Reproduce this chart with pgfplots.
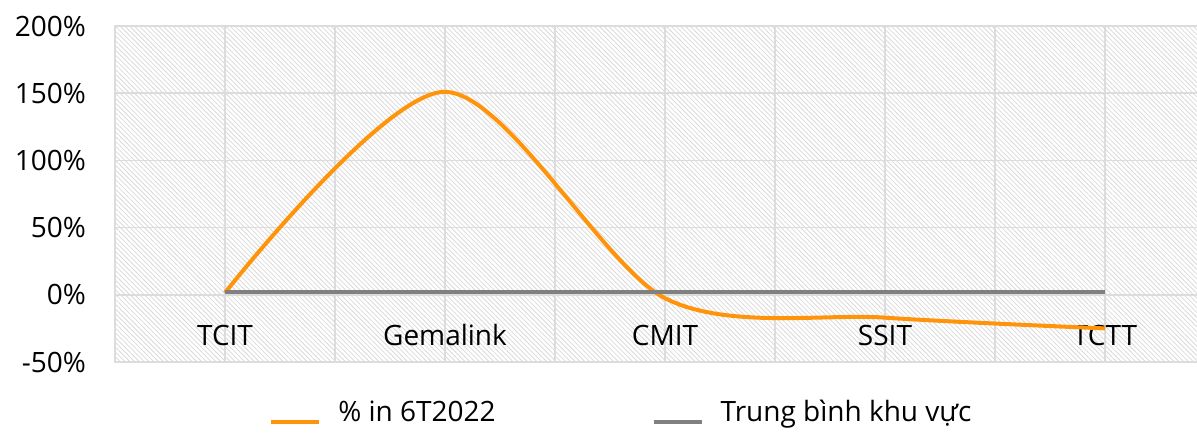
\documentclass[border=0pt]{standalone}
\usepackage{pgfplots}
\pgfplotsset{compat=1.18}
\usepackage{fontspec}
\setmainfont{Open Sans}
\usetikzlibrary{patterns.meta}
\definecolor{ora}{RGB}{255,148,10}
\definecolor{avg}{RGB}{128,128,128}
\definecolor{gridc}{RGB}{220,220,220}
\begin{document}
\begin{tikzpicture}
\useasboundingbox (0,0) rectangle (598.5bp,216.5bp);
\begin{axis}[
  at={(57.5bp,35.5bp)}, anchor=south west,
  scale only axis, width=550bp, height=168bp,
  xmin=-0.5, xmax=4.5, ymin=-50, ymax=200,
  axis background/.style={pattern={Lines[angle=-45,distance=1.7pt,line width=0.4pt]}, pattern color=black!15},
  axis line style={draw=gridc, line width=0.75bp},
  xtick={0,1,2,3,4},
  xticklabels={TCIT,Gemalink,CMIT,SSIT,TCTT},
  minor xtick={0.5,1.5,2.5,3.5},
  ytick={-50,0,50,100,150,200},
  yticklabels={-50\%,0\%,50\%,100\%,150\%,200\%},
  grid=both,
  major grid style={draw=gridc, line width=0.75bp},
  minor grid style={draw=gridc, line width=0.75bp},
  major tick length=0pt, minor tick length=0pt,
  tick label style={font=\fontsize{14bp}{16bp}\selectfont, text=black},
  xticklabel style={anchor=center, yshift=13.5bp},
  yticklabel style={anchor=east, xshift=-11bp},
  legend style={draw=none, fill=none, at={(0.1345,-0.15)}, anchor=west,
    font=\fontsize{14bp}{16bp}\selectfont, legend columns=2,
    /tikz/every even column/.append style={column sep=76bp}},
  legend image code/.code={\draw[#1] (0bp,-5bp) -- (24bp,-5bp); \path (30.5bp,-5bp);},
]
\addplot[ora, line width=2bp, smooth] coordinates {(0,1.5) (1,151) (2,-2.5) (3,-17) (4,-25)};
\addlegendentry{\% in 6T2022}
\addplot[avg, line width=2bp] coordinates {(0,2) (1,2) (2,2) (3,2) (4,2)};
\addlegendentry{Trung bình khu vực}
\end{axis}
\end{tikzpicture}
\end{document}
